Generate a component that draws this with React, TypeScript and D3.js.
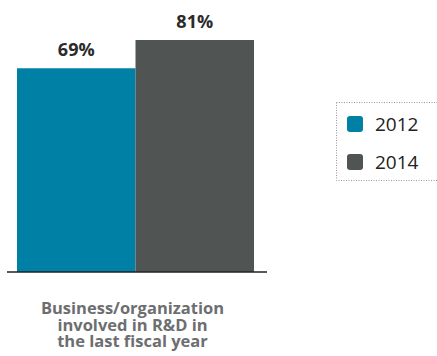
import React from "react";
import * as d3 from "d3";

const categories = ["Business/organization involved in R&D in the last fiscal year"];
const categoryLines = ["Business/organization", "involved in R&D in", "the last fiscal year"];
const seriesNames = ["2012", "2014"];
const values2012 = [69];
const values2014 = [81];
const colors = ["#0080a4", "#505453"];

export default function App() {
  const W = 437, H = 356;
  const baseY = 272;
  const x0 = d3.scaleBand().domain(categories).range([17, 254]).paddingInner(0).paddingOuter(0);
  const x1 = d3.scaleBand().domain(seriesNames).range([0, x0.bandwidth()]).padding(0);
  const y = d3.scaleLinear().domain([-17.5, 81]).range([baseY, 40]);
  const series = [values2012, values2014];
  const cx = (x0(categories[0]) ?? 0) + x0.bandwidth() / 2 - 3;

  return (
    <svg width={W} height={H} style={{ position: "absolute", left: 0, top: 0 }}>
      <rect width={W} height={H} fill="#fff" />
      {series.map((vals, si) =>
        vals.map((v, ci) => {
          const bx = (x0(categories[ci]) ?? 0) + (x1(seriesNames[si]) ?? 0);
          return (
            <g key={`${si}-${ci}`}>
              <rect x={bx} y={y(v)} width={x1.bandwidth()} height={baseY - y(v)} fill={colors[si]} />
              <text
                x={bx + x1.bandwidth() / 2}
                y={y(v) - 12}
                textAnchor="middle"
                fontFamily="'Open Sans', sans-serif"
                fontWeight="bold"
                fontSize={18}
                fill="#2b2b2b"
              >
                {v}%
              </text>
            </g>
          );
        })
      )}
      <line x1={7} x2={267} y1={baseY} y2={baseY} stroke="#222" strokeWidth={1.5} />
      {categoryLines.map((t, i) => (
        <text
          key={i}
          x={cx}
          y={314 + i * 16.5}
          textAnchor="middle"
          fontFamily="'Open Sans', sans-serif"
          fontWeight="bold"
          fontSize={16.5}
          fill="#6d6e70"
        >
          {t}
        </text>
      ))}
      <rect x={336.5} y={102.5} width={110} height={78} fill="none" stroke="#999" strokeWidth={1} strokeDasharray="1,1.5" />
      {seriesNames.map((s, i) => (
        <g key={s} transform={`translate(347, ${116 + i * 38})`}>
          <rect width={16} height={16} rx={3} fill={colors[i]} />
          <text x={28} y={15} fontFamily="'Open Sans', sans-serif" fontSize={19} fill="#222">
            {s}
          </text>
        </g>
      ))}
    </svg>
  );
}
